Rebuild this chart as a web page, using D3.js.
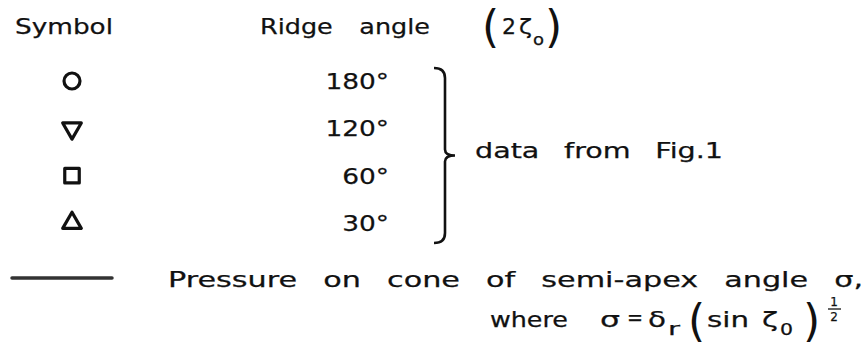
<!DOCTYPE html>
<html>
<head>
<meta charset="utf-8">
<script src="https://cdn.jsdelivr.net/npm/d3@7"></script>
<style>
  body { margin: 0; background: #fff; }
  text { font-family: "DejaVu Sans", sans-serif; fill: #111; stroke: #111; stroke-width: 0.25; }
</style>
</head>
<body>
<svg width="865" height="358"></svg>
<script>
// Legend data
var symbolNames = ["circle", "triangle-down", "square", "triangle"];
var ridgeAngles = ["180°", "120°", "60°", "30°"];
var groupLabel = "data from Fig.1";
var lineLabel = "Pressure on cone of semi-apex angle σ,";

var svg = d3.select("svg"),
    width = +svg.attr("width"),
    height = +svg.attr("height");

var fs = 22;

svg.append("rect").attr("width", width).attr("height", height).attr("fill", "#fff");

// text fitted to a width, glyphs stretched (wide lettering look)
function label(x, yy, size, str, w, ws) {
  var t = svg.append("text")
      .attr("x", x).attr("y", yy)
      .attr("font-size", size)
      .text(str);
  if (ws) t.style("word-spacing", ws + "px");
  if (w) t.attr("textLength", w).attr("lengthAdjust", "spacingAndGlyphs");
  return t;
}

// rows of the symbol table
var y = d3.scalePoint()
    .domain(ridgeAngles)
    .range([81, 223]);

var shapes = {
  "circle": {type: d3.symbolCircle, size: 200, rot: 0},
  "triangle-down": {type: d3.symbolTriangle, size: 150, rot: 180},
  "square": {type: d3.symbolSquare, size: 210, rot: 0},
  "triangle": {type: d3.symbolTriangle, size: 150, rot: 0}
};

// Headers
label(15, 34, fs, "Symbol", 98);
label(260, 34, fs, "Ridge angle", 170, 16);
label(482, 42, 44, "(").style("stroke-width", 0);
label(502, 34, fs, "2", 14);
label(519, 34, fs, "ζ", 13);
label(533, 45, 16, "o", 11);
label(545, 42, 44, ")").style("stroke-width", 0);

// Symbols
svg.selectAll(".sym")
    .data(symbolNames)
    .enter().append("path")
    .attr("class", "sym")
    .attr("d", function(d) { return d3.symbol().type(shapes[d].type).size(shapes[d].size)(); })
    .attr("transform", function(d, i) {
        return "translate(72," + y(ridgeAngles[i]) + ") rotate(" + shapes[d].rot + ")";
    })
    .attr("fill", "none")
    .attr("stroke", "#111")
    .attr("stroke-width", 3.2)
    .attr("stroke-linejoin", "round");

// Angle labels, stretched a bit wider than the font
svg.selectAll(".ang")
    .data(ridgeAngles)
    .enter().append("text")
    .attr("class", "ang")
    .attr("x", 389)
    .attr("y", function(d) { return y(d) + 8; })
    .attr("text-anchor", "end")
    .attr("font-size", fs)
    .text(function(d) { return d; })
    .each(function() {
        var w = this.getComputedTextLength();
        d3.select(this).attr("textLength", w * 1.2).attr("lengthAdjust", "spacingAndGlyphs");
    });

// Brace
var bTop = 68, bBot = 243, bMid = (bTop + bBot) / 2, bx = 445;
svg.append("path")
    .attr("d", "M" + (bx - 11) + "," + bTop +
        " Q" + bx + "," + bTop + " " + bx + "," + (bTop + 10) +
        " L" + bx + "," + (bMid - 6) +
        " Q" + bx + "," + bMid + " " + (bx + 10) + "," + bMid +
        " Q" + bx + "," + bMid + " " + bx + "," + (bMid + 6) +
        " L" + bx + "," + (bBot - 10) +
        " Q" + bx + "," + bBot + " " + (bx - 11) + "," + bBot)
    .attr("fill", "none")
    .attr("stroke", "#111")
    .attr("stroke-width", 2.6);

label(475, 158, fs, groupLabel, 248, 12);

// Line sample
svg.append("line")
    .attr("x1", 12).attr("x2", 112)
    .attr("y1", 278).attr("y2", 278)
    .attr("stroke", "#333")
    .attr("stroke-width", 3.5)
    .attr("stroke-linecap", "round");

label(168, 287, fs, lineLabel, 695, 12);

// second line: where σ = δr (sin ζ0)^1/2
label(490, 327, fs, "where", 78);
label(600, 327, fs, "σ", 20);
label(627, 325, fs, "=", 16);
label(648, 327, fs, "δ", 18);
label(668, 335, 17, "r", 12);
label(688, 336, 44, "(").style("stroke-width", 0);
label(707, 327, fs, "sin", 42);
label(762, 327, fs, "ζ", 16);
label(780, 335, 16, "0", 13);
label(803, 336, 44, ")").style("stroke-width", 0);
label(834, 306, 12, "1").attr("text-anchor", "middle");
svg.append("line").attr("x1", 828).attr("x2", 841).attr("y1", 309).attr("y2", 309)
    .attr("stroke", "#111").attr("stroke-width", 1.3);
label(834, 321, 12, "2").attr("text-anchor", "middle");
</script>
</body>
</html>
